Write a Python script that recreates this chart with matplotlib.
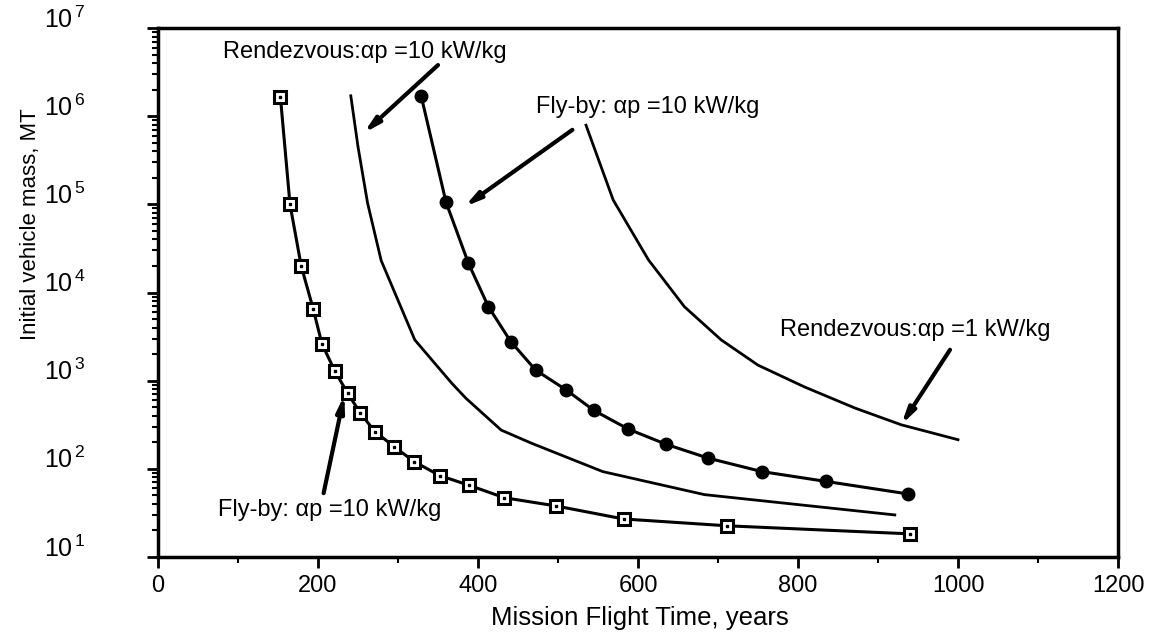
import math
import matplotlib
matplotlib.use('Agg')
import matplotlib.pyplot as plt
from matplotlib.ticker import FixedLocator, LogLocator, FuncFormatter, NullFormatter
import matplotlib.transforms as mtransforms

plt.rcParams['font.family'] = ['Liberation Sans', 'DejaVu Sans']
plt.rcParams['mathtext.fontset'] = 'custom'
plt.rcParams['mathtext.rm'] = 'Liberation Sans'
plt.rcParams['mathtext.it'] = 'Liberation Sans'

# Fly-by, alpha_p = 10 kW/kg (open squares)
flyby_sq_t = [153, 165, 179, 194, 205, 221, 237, 253, 271, 295, 320, 352, 389, 433, 497, 582, 711, 940]
flyby_sq_m = [1.66e6, 1.0e5, 2.0e4, 6.5e3, 2.6e3, 1.29e3, 721, 428, 265, 179, 121, 84, 65, 47, 38, 27, 22.6, 18.3]

# Fly-by, alpha_p = 10 kW/kg (filled markers)
flyby_dot_t = [329, 360, 388, 413, 441, 472, 510, 545, 588, 635, 688, 755, 835, 937]
flyby_dot_m = [1.69e6, 1.06e5, 2.15e4, 6.9e3, 2.77e3, 1.32e3, 787, 459, 282, 190, 132, 93, 72, 52]

# Rendezvous, alpha_p = 10 kW/kg
rdv10_t = [241, 250, 262, 279, 321, 367, 385, 429, 467, 556, 683, 921]
rdv10_m = [1.7e6, 4.5e5, 1.03e5, 2.3e4, 2.9e3, 940, 630, 275, 195, 93, 51, 30]

# Rendezvous, alpha_p = 1 kW/kg
rdv1_t = [535, 569, 613, 658, 704, 750, 808, 871, 929, 1000]
rdv1_m = [7.9e5, 1.12e5, 2.35e4, 6.9e3, 2.9e3, 1.5e3, 850, 490, 316, 214]

x_ticks = [0, 200, 400, 600, 800, 1000, 1200]
y_ticks = [1e1, 1e2, 1e3, 1e4, 1e5, 1e6, 1e7]

fig = plt.figure(figsize=(11.53, 6.32), dpi=100)
ax = fig.add_axes([158 / 1153, 1 - 557 / 632, 960 / 1153, 529 / 632])

ax.plot(flyby_sq_t, flyby_sq_m, color='black', lw=2.2, marker='s', ms=9,
        mfc='white', mec='black', mew=2.2, zorder=3)
ax.plot(flyby_sq_t, flyby_sq_m, ls='none', marker='s', ms=2, color='black', zorder=4)
ax.plot(flyby_dot_t, flyby_dot_m, color='black', lw=2.2, marker='o', ms=9, zorder=3)
ax.plot(rdv10_t, rdv10_m, color='black', lw=2)
ax.plot(rdv1_t, rdv1_m, color='black', lw=2)

ax.set_yscale('log')
ax.set_xlim(0, 1200)
ax.set_ylim(10, 1e7)

ax.xaxis.set_major_locator(FixedLocator(x_ticks))
ax.xaxis.set_minor_locator(FixedLocator([100, 300, 500, 700, 900, 1100]))
ax.yaxis.set_major_locator(FixedLocator(y_ticks))
ax.yaxis.set_minor_locator(LogLocator(base=10, subs=[2, 3, 4, 5, 6, 7, 8, 9], numticks=10))
ax.yaxis.set_minor_formatter(NullFormatter())
ax.yaxis.set_major_formatter(FuncFormatter(lambda v, p: r'$\mathregular{10^{\,%d}}$' % round(math.log10(v))))

ax.tick_params(axis='both', which='major', direction='out', length=8, width=2, top=False, right=False)
ax.tick_params(axis='both', which='minor', direction='out', length=4, width=1.5, top=False, right=False)
ax.tick_params(axis='x', labelsize=17, pad=5)
ax.tick_params(axis='y', labelsize=18, pad=44)
for spine in ax.spines.values():
    spine.set_linewidth(2.5)

offset = mtransforms.ScaledTranslation(0, 8 / 72, fig.dpi_scale_trans)
for lab in ax.get_yticklabels():
    lab.set_transform(lab.get_transform() + offset)

ax.set_xlabel('Mission Flight Time, years', fontsize=18.5)
ax.xaxis.set_label_coords(0.502, -0.093)
ax.set_ylabel('Initial vehicle mass, MT', fontsize=16)
ax.yaxis.set_label_coords(-0.122, 0.63)

arrow = dict(arrowstyle='-|>,head_length=0.9,head_width=0.22', lw=3, color='black',
             shrinkA=0, shrinkB=0)
txt = dict(fontsize=17, va='center', ha='left')

ax.text(81, 5.35e6, 'Rendezvous:αp =10 kW/kg', **txt)
ax.annotate('', xy=(257, 6.4e5), xytext=(350, 3.8e6), arrowprops=arrow)

ax.text(472, 1.27e6, 'Fly-by: αp =10 kW/kg', **txt)
ax.annotate('', xy=(383, 9.4e4), xytext=(518, 7.0e5), arrowprops=arrow)

ax.text(777, 3.77e3, 'Rendezvous:αp =1 kW/kg', **txt)
ax.annotate('', xy=(929, 316), xytext=(990, 2.24e3), arrowprops=arrow)

ax.text(75, 34.3, 'Fly-by: αp =10 kW/kg', **txt)
ax.annotate('', xy=(233, 690), xytext=(207, 53), arrowprops=arrow)

fig.savefig('out.png', dpi=100)
